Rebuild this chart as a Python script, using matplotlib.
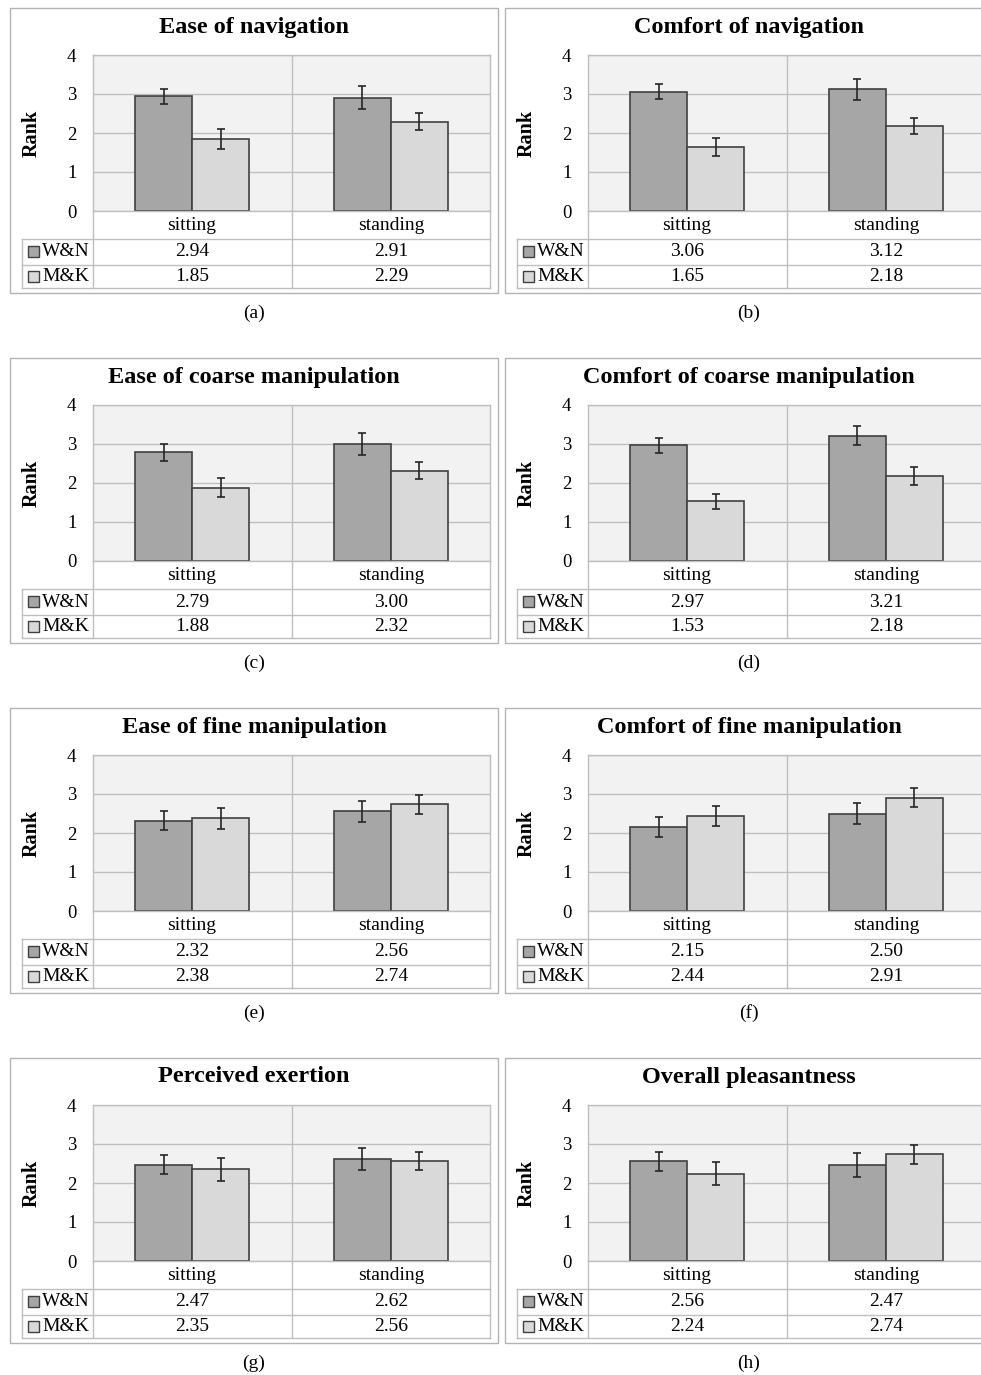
import matplotlib
matplotlib.use('Agg')
import matplotlib.pyplot as plt
from matplotlib.lines import Line2D
from matplotlib.patches import Rectangle

plt.rcParams['font.family'] = ['Liberation Serif', 'DejaVu Serif']

W = 981
H = 1375

titles = ['Ease of navigation', 'Comfort of navigation',
          'Ease of coarse manipulation', 'Comfort of coarse manipulation',
          'Ease of fine manipulation', 'Comfort of fine manipulation',
          'Perceived exertion', 'Overall pleasantness']
captions = ['(a)', '(b)', '(c)', '(d)', '(e)', '(f)', '(g)', '(h)']
categories = ['sitting', 'standing']
series = ['W&N', 'M&K']

wn = [[2.94, 2.91], [3.06, 3.12], [2.79, 3.00], [2.97, 3.21],
      [2.32, 2.56], [2.15, 2.50], [2.47, 2.62], [2.56, 2.47]]
mk = [[1.85, 2.29], [1.65, 2.18], [1.88, 2.32], [1.53, 2.18],
      [2.38, 2.74], [2.44, 2.91], [2.35, 2.56], [2.24, 2.74]]
wn_err = [[0.19, 0.29], [0.19, 0.27], [0.22, 0.28], [0.19, 0.24],
          [0.24, 0.27], [0.25, 0.26], [0.24, 0.29], [0.24, 0.31]]
mk_err = [[0.25, 0.22], [0.23, 0.21], [0.25, 0.22], [0.20, 0.22],
          [0.27, 0.24], [0.25, 0.25], [0.30, 0.23], [0.29, 0.24]]

c_wn = '#a6a6a6'
c_mk = '#d9d9d9'
c_edge = '#404040'
c_grid = '#bfbfbf'

fig = plt.figure(figsize=(W / 100, H / 100), dpi=100)


def fx(x):
    return x / W


def fy(y):
    return 1 - y / H


def line(x1, y1, x2, y2, color=c_grid, lw=1.0):
    fig.add_artist(Line2D([fx(x1), fx(x2)], [fy(y1), fy(y2)],
                          transform=fig.transFigure, color=color, lw=lw))


def text(x, y, s, **kw):
    fig.text(fx(x), fy(y), s, transform=fig.transFigure, **kw)


def panel(i, x0, y0):
    # outer frame
    fig.add_artist(Rectangle((fx(x0 + 10), fy(y0 + 292.5)), (498 - 10) / W, (292.5 - 7.5) / H,
                             transform=fig.transFigure, fill=False, edgecolor='#b3b3b3', lw=1.0))
    text(x0 + 254, y0 + 27, titles[i], fontsize=17.5, fontweight='bold', ha='center', va='center')

    ax = fig.add_axes([fx(x0 + 93), fy(y0 + 211), (490 - 93) / W, (211 - 55) / H])
    ax.set_facecolor('#f2f2f2')
    ax.set_xlim(-0.5, 1.5)
    ax.set_ylim(0, 4)
    ax.set_yticks([0, 1, 2, 3, 4])
    ax.set_yticklabels(['0', '1', '2', '3', '4'], fontsize=13.5)
    ax.tick_params(axis='y', length=0, pad=12)
    ax.set_xticks([])
    for s in ax.spines.values():
        s.set_color(c_grid)
        s.set_linewidth(1.0)
    ax.yaxis.grid(True, color=c_grid, lw=1.0)
    ax.set_axisbelow(True)
    ax.axvline(0.5, color=c_grid, lw=1.0)

    x = [0, 1]
    bw = 0.288
    ax.bar([v - bw / 2 for v in x], wn[i], bw, color=c_wn, edgecolor=c_edge, lw=1.2, zorder=2)
    ax.bar([v + bw / 2 for v in x], mk[i], bw, color=c_mk, edgecolor=c_edge, lw=1.2, zorder=2)
    ax.errorbar([v - bw / 2 for v in x], wn[i], yerr=wn_err[i], fmt='none', ecolor='#262626',
                elinewidth=1.2, capsize=3, capthick=1.2, zorder=3)
    ax.errorbar([v + bw / 2 for v in x], mk[i], yerr=mk_err[i], fmt='none', ecolor='#262626',
                elinewidth=1.2, capsize=3, capthick=1.2, zorder=3)

    text(x0 + 32, y0 + 133, 'Rank', fontsize=14.5, fontweight='bold', rotation=90,
         ha='center', va='center')

    # table under the plot
    for yy in [239, 265, 288]:
        line(x0 + 22, y0 + yy, x0 + 490, y0 + yy)
    line(x0 + 22, y0 + 239, x0 + 22, y0 + 288)
    for xx in [93, 291.5, 490]:
        line(x0 + xx, y0 + 211, x0 + xx, y0 + 288)

    cx = [192, 391]
    for j in range(2):
        text(x0 + cx[j], y0 + 225, categories[j], fontsize=14, ha='center', va='center')
        text(x0 + cx[j], y0 + 252, '%.2f' % wn[i][j], fontsize=14, ha='center', va='center')
        text(x0 + cx[j], y0 + 276.5, '%.2f' % mk[i][j], fontsize=14, ha='center', va='center')

    for k, (yy, col) in enumerate([(252, c_wn), (276.5, c_mk)]):
        fig.add_artist(Rectangle((fx(x0 + 28), fy(y0 + yy + 5)), 11 / W, 11 / H,
                                 transform=fig.transFigure, facecolor=col, edgecolor=c_edge, lw=1.0))
        text(x0 + 42, y0 + yy, series[k], fontsize=14, ha='left', va='center')

    text(x0 + 254, y0 + 313, captions[i], fontsize=14, ha='center', va='center')


for i in range(8):
    panel(i, 495 * (i % 2), 350 * (i // 2))

fig.savefig('out.png', dpi=100)
